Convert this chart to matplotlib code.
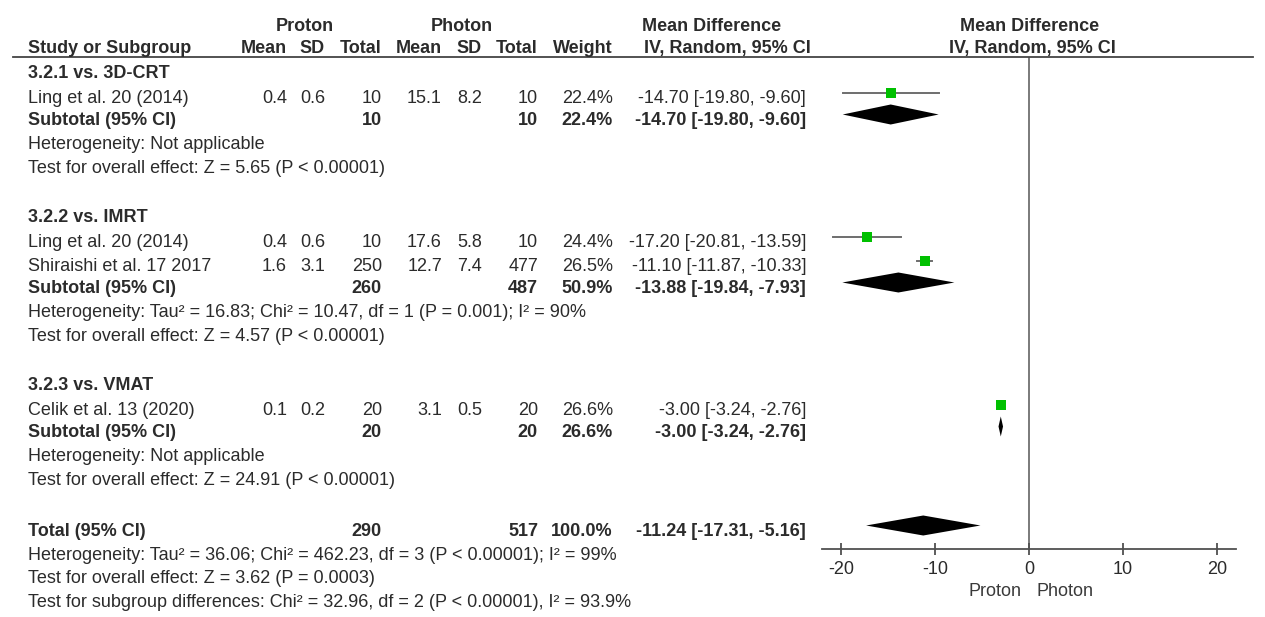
import matplotlib
matplotlib.use("Agg")
import matplotlib.pyplot as plt

# ---------------- data ----------------
subgroups = ["3.2.1 vs. 3D-CRT", "3.2.2 vs. IMRT", "3.2.3 vs. VMAT"]

studies = ["Ling et al. 20 (2014)", "Ling et al. 20 (2014)",
           "Shiraishi et al. 17 2017", "Celik et al. 13 (2020)"]
study_group = [0, 1, 1, 2]
proton_mean = [0.4, 0.4, 1.6, 0.1]
proton_sd = [0.6, 0.6, 3.1, 0.2]
proton_n = [10, 10, 250, 20]
photon_mean = [15.1, 17.6, 12.7, 3.1]
photon_sd = [8.2, 5.8, 7.4, 0.5]
photon_n = [10, 10, 477, 20]
weight = [22.4, 24.4, 26.5, 26.6]
md = [-14.70, -17.20, -11.10, -3.00]
md_lo = [-19.80, -20.81, -11.87, -3.24]
md_hi = [-9.60, -13.59, -10.33, -2.76]

sub_proton_n = [10, 260, 20]
sub_photon_n = [10, 487, 20]
sub_weight = [22.4, 50.9, 26.6]
sub_md = [-14.70, -13.88, -3.00]
sub_lo = [-19.80, -19.84, -3.24]
sub_hi = [-9.60, -7.93, -2.76]
sub_het = ["Heterogeneity: Not applicable",
           "Heterogeneity: Tau² = 16.83; Chi² = 10.47, df = 1 (P = 0.001); I² = 90%",
           "Heterogeneity: Not applicable"]
sub_test = ["Test for overall effect: Z = 5.65 (P < 0.00001)",
            "Test for overall effect: Z = 4.57 (P < 0.00001)",
            "Test for overall effect: Z = 24.91 (P < 0.00001)"]

total_proton_n = 290
total_photon_n = 517
total_weight = 100.0
total_md = -11.24
total_lo = -17.31
total_hi = -5.16
total_notes = ["Heterogeneity: Tau² = 36.06; Chi² = 462.23, df = 3 (P < 0.00001); I² = 99%",
               "Test for overall effect: Z = 3.62 (P = 0.0003)",
               "Test for subgroup differences: Chi² = 32.96, df = 2 (P < 0.00001), I² = 93.9%"]

x_ticks = [-20, -10, 0, 10, 20]
favours = ["Proton", "Photon"]

# ---------------- layout (pixels, origin top-left) ----------------
W, H = 1265, 617
FS = 13.0
TXT = "#2b2b2b"
plt.rcParams["font.family"] = ["Liberation Sans", "DejaVu Sans"]

fig = plt.figure(figsize=(W / 100, H / 100), dpi=100)
fig.patch.set_facecolor("white")


def put(x, y, s, ha="left", bold=False, **kw):
    fig.text(x / W, 1 - y / H, s, ha=ha, va="baseline", fontsize=FS,
             fontweight="bold" if bold else "normal", color=TXT, **kw)


col_name = 28
col_right = [287, 325, 382, 442, 482, 538, 613, 806]

# header
put(305, 31, "Proton", ha="center", bold=True)
put(462, 31, "Photon", ha="center", bold=True)
put(642, 31, "Mean Difference", bold=True)
put(1030, 31, "Mean Difference", ha="center", bold=True)
put(col_name, 53, "Study or Subgroup", bold=True)
for x, lab in zip(col_right, ["Mean", "SD", "Total", "Mean", "SD", "Total", "Weight"]):
    put(x, 53, lab, ha="right", bold=True)
put(644, 53, "IV, Random, 95% CI", bold=True)
put(1032, 53, "IV, Random, 95% CI", ha="center", bold=True)
fig.add_artist(plt.Line2D([13 / W, 1253 / W], [1 - 57 / H, 1 - 57 / H],
                          transform=fig.transFigure, color="#444444", lw=1.3))

# forest axes: y in pixel rows, x in data units
ax_top, ax_bot, ax_l, ax_r = 57, 549, 822, 1236
ax = fig.add_axes([ax_l / W, 1 - ax_bot / H, (ax_r - ax_l) / W, (ax_bot - ax_top) / H])
ax.set_xlim(-22, 22)
ax.set_ylim(ax_bot, ax_top)
ax.patch.set_alpha(0)
for side in ["left", "right", "top"]:
    ax.spines[side].set_visible(False)
ax.spines["bottom"].set_color("#505050")
ax.spines["bottom"].set_linewidth(1.3)
ax.set_yticks([])
ax.set_xticks(x_ticks)
ax.set_xticklabels([str(t) for t in x_ticks])
ax.tick_params(axis="x", direction="inout", length=8, width=1.3, color="#505050",
               labelsize=FS, labelcolor=TXT, pad=5)
ax.axvline(0, color="#707070", lw=1.3, zorder=1)

fig.text(1029 / W - 0.006, 1 - 596 / H, favours[0], ha="right", va="baseline",
         fontsize=FS, color="#3a3a3a")
fig.text(1029 / W + 0.006, 1 - 596 / H, favours[1], ha="left", va="baseline",
         fontsize=FS, color="#3a3a3a")

GREEN = "#00c000"
DH = 10  # diamond half height in pixel rows
OFF = 10.5  # marker centre above the text baseline


def diamond(lo, mid, hi, yc):
    ax.fill([lo, mid, hi, mid], [yc, yc - DH, yc, yc + DH], color="black", lw=0, zorder=3)


def fmt_ci(m, lo, hi):
    return f"{m:.2f} [{lo:.2f}, {hi:.2f}]"


y = 78
for g, title in enumerate(subgroups):
    put(col_name, y, title, bold=True)
    idx = [i for i, sg in enumerate(study_group) if sg == g]
    for k, i in enumerate(idx):
        y += 25 if k == 0 else 24
        put(col_name, y, studies[i])
        vals = [f"{proton_mean[i]}", f"{proton_sd[i]}", f"{proton_n[i]}",
                f"{photon_mean[i]}", f"{photon_sd[i]}", f"{photon_n[i]}",
                f"{weight[i]:.1f}%", fmt_ci(md[i], md_lo[i], md_hi[i])]
        for x, v in zip(col_right, vals):
            put(x, y, v, ha="right")
        yc = y - OFF
        ax.plot([md_lo[i], md_hi[i]], [yc, yc], color="#6e6e6e", lw=1.4, zorder=2)
        side = 1.95 * weight[i] ** 0.5 * 0.72
        ax.plot([md[i]], [yc], marker="s", ms=side, color=GREEN, mew=0, zorder=4)
    y += 22
    put(col_name, y, "Subtotal (95% CI)", bold=True)
    put(col_right[2], y, f"{sub_proton_n[g]}", ha="right", bold=True)
    put(col_right[5], y, f"{sub_photon_n[g]}", ha="right", bold=True)
    put(col_right[6], y, f"{sub_weight[g]:.1f}%", ha="right", bold=True)
    put(col_right[7], y, fmt_ci(sub_md[g], sub_lo[g], sub_hi[g]), ha="right", bold=True)
    diamond(sub_lo[g], sub_md[g], sub_hi[g], y - OFF)
    y += 24
    put(col_name, y, sub_het[g])
    y += 24
    put(col_name, y, sub_test[g])
    y += 49

y = 536
put(col_name, y, "Total (95% CI)", bold=True)
put(col_right[2], y, f"{total_proton_n}", ha="right", bold=True)
put(col_right[5], y, f"{total_photon_n}", ha="right", bold=True)
put(col_right[6], y, f"{total_weight:.1f}%", ha="right", bold=True)
put(col_right[7], y, fmt_ci(total_md, total_lo, total_hi), ha="right", bold=True)
diamond(total_lo, total_md, total_hi, y - OFF)
for note in total_notes:
    y += 23.7
    put(col_name, y, note)

fig.savefig("out.png", dpi=100, facecolor="white")
